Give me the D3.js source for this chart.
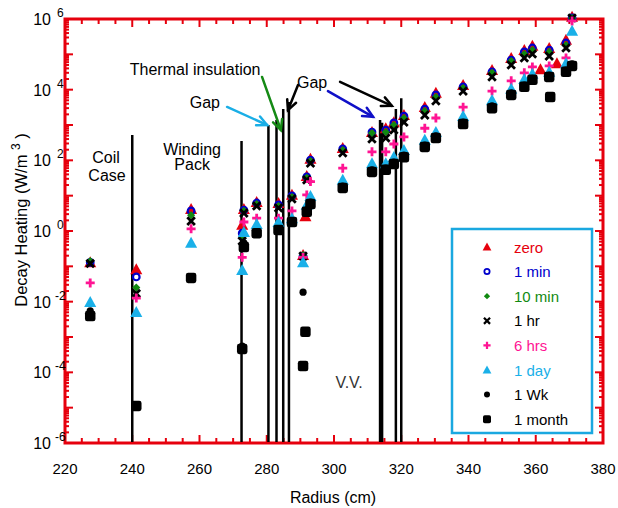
<!DOCTYPE html>
<html><head><meta charset="utf-8">
<script src="https://cdn.jsdelivr.net/npm/d3@7"></script>
<style>body{margin:0;background:#fff} svg{display:block} text{font-family:"Liberation Sans",Arial,sans-serif}</style>
</head><body><svg id="c" width="618" height="508"></svg>
<script>
// ---- data ----
const radius=[227.5,241.2,257.5,272.7,273.2,277.0,283.5,287.5,290.8,291.5,291.9,293.0,302.6,311.3,315.4,317.8,320.8,327.0,330.3,338.4,347.0,352.7,356.6,359.0,361.4,364.0,364.3,366.3,369.0,370.8];
const zero  =[0.13,0.083,4.2,1.5,4.2,6.6,6.2,10.5,0.21,2.6,36,110,224,630,810,1200,1900,3200,8100,13500,36000,79000,132000,174000,38000,151000,null,56000,257000,1.15e6];
const min1  =[0.13,0.050,3.7,0.87,3.9,6.2,5.5,9.8,0.195,null,34,102,210,630,720,1150,1780,2800,7100,12000,32000,69000,117000,151000,null,132000,null,null,209000,1.07e6];
const min10 =[0.14,0.025,2.8,0.63,3.7,5.8,5.1,9.1,0.21,null,32,96,195,590,630,1000,1580,2500,6200,11200,30000,65000,102000,132000,null,117000,null,null,182000,1.07e6];
const hr1   =[0.12,0.017,1.9,0.52,3.2,5.1,4.5,8.1,0.195,null,28,83,162,400,430,720,1200,1900,4800,9100,23000,50000,79000,102000,null,89000,null,null,151000,1.07e6];
const hrs6  =[0.034,0.0126,1.15,0.18,1.8,2.3,2.3,3.7,0.18,null,10.5,25,60,174,174,290,460,810,1580,3200,9100,17800,30000,44000,null,47000,null,null,79000,880000];
const day1  =[0.0098,0.0051,0.46,0.079,0.93,1.58,1.8,2.3,0.13,null,5.5,9.8,28,83,83,123,195,380,630,1780,5100,10500,20000,28000,null,32000,null,null,56000,460000];
const wk1   =[0.0055,1.17e-5,0.050,5.5e-4,0.46,0.93,1.15,1.9,0.0186,null,3.9,6.6,18.6,54,60,89,141,270,490,1200,3500,8100,13500,21000,null,26000,6600,null,36000,54000];
const month1=[0.0039,1.12e-5,0.047,4.6e-4,0.35,0.87,1.07,1.8,1.5e-4,1.4e-3,3.5,5.8,16.6,47,54,79,123,240,430,1070,3000,7100,12000,19000,null,23000,6200,null,32000,47000];
const seriesNames=["zero","1 min","10 min","1 hr","6 hrs","1 day","1 Wk","1 month"];
const seriesData=[zero,min1,min10,hr1,hrs6,day1,wk1,month1];
const xTicks=[220,240,260,280,300,320,340,360,380];
const yTickExps=[-6,-4,-2,0,2,4,6];
// material boundaries (radius, top value)
const boundaryR  =[240,272.5,280.5,282.9,284.9,286.6,313.7,314.3,318.4,320];
const boundaryTop=[525,355,1000,1380,2820,4470,1380,1150,2820,5750];
// annotations (data coords)
const labels=[
  {t:"Thermal insulation",r:258.7,v:36300},
  {t:"Gap",r:261.6,v:4470},
  {t:"Gap",r:293.5,v:15500},
  {t:"Coil",r:232.2,v:117},
  {t:"Case",r:232.5,v:38},
  {t:"Winding",r:257.8,v:209},
  {t:"Pack",r:257.8,v:74},
  {t:"V.V.",r:304.5,v:5e-5}
];
const arrows=[
  {r0:268.2,v0:3240,r1:280.1,v1:1000,c:"#1aaee6"},
  {r0:278.6,v0:22900,r1:284.2,v1:720,c:"#158a15"},
  {r0:289.3,v0:13500,r1:286.3,v1:2630,c:"#000"},
  {r0:298.2,v0:9100,r1:311.6,v1:1700,c:"#1010c8"},
  {r0:301.8,v0:16600,r1:317.2,v1:3470,c:"#000"}
];

// ---- styles ----
const RED="#e6000d";
const colors=["#e6000d","#0000cc","#118a11","#000000","#ff1493","#1ab0e8","#000000","#000000"];
const shapes=["tri","ring","diamond","x","plus","tri","dot","square"];

const svg=d3.select("#c");
const x=d3.scaleLinear().domain([220,380]).range([65,603]);
const y=d3.scaleLog().domain([1e-6,1e6]).range([443,19]);

// ticks
const tg=svg.append("g").attr("stroke",RED).attr("stroke-width",2);
for(let r=220;r<=380;r+=5){
  const L=(r%20===0)?8:5;
  tg.append("line").attr("x1",x(r)).attr("x2",x(r)).attr("y1",443).attr("y2",443-L);
  tg.append("line").attr("x1",x(r)).attr("x2",x(r)).attr("y1",19).attr("y2",19+L);
}
for(let e=-6;e<6;e++){
  for(let m=1;m<=9;m++){
    const v=m*Math.pow(10,e), yy=y(v), L=(m===1)?8:4;
    tg.append("line").attr("x1",65).attr("x2",65+L).attr("y1",yy).attr("y2",yy);
    tg.append("line").attr("x1",603).attr("x2",603-L).attr("y1",yy).attr("y2",yy);
  }
}
svg.append("rect").attr("x",65).attr("y",19).attr("width",538).attr("height",424)
  .attr("fill","none").attr("stroke",RED).attr("stroke-width",3);

// tick labels
xTicks.forEach(t=>svg.append("text").attr("x",x(t)).attr("y",474).attr("text-anchor","middle")
  .attr("font-size",15).text(t));
yTickExps.forEach(e=>{
  const yy=y(Math.pow(10,e));
  svg.append("text").attr("x",51).attr("y",yy+6).attr("text-anchor","end").attr("font-size",16).text("10");
  svg.append("text").attr("x",e<0?55:57).attr("y",yy-2).attr("font-size",12).text(e);
});
svg.append("text").attr("x",333).attr("y",503).attr("text-anchor","middle").attr("font-size",16).text("Radius (cm)");
const yl=svg.append("text").attr("transform","translate(27,220) rotate(-90)").attr("text-anchor","middle").attr("font-size",16.5);
yl.append("tspan").text("Decay Heating (W/m ");
yl.append("tspan").attr("font-size",12).attr("dy",-7).text("3");
yl.append("tspan").attr("dy",7).text(" )");

// boundaries
boundaryR.forEach((r,i)=>svg.append("line").attr("x1",x(r)).attr("x2",x(r))
  .attr("y1",y(boundaryTop[i])).attr("y2",442).attr("stroke","#000").attr("stroke-width",2.5));

// markers
function marker(g,type,cx,cy,s,c){
  switch(type){
    case "tri": g.append("path").attr("d",`M${cx},${cy-s*0.55}L${cx+s*0.55},${cy+s*0.45}L${cx-s*0.55},${cy+s*0.45}Z`).attr("fill",c); break;
    case "ring": g.append("circle").attr("cx",cx).attr("cy",cy).attr("r",s*0.33).attr("fill","none").attr("stroke",c).attr("stroke-width",s*0.22); break;
    case "diamond": g.append("path").attr("d",`M${cx},${cy-s*0.45}L${cx+s*0.45},${cy}L${cx},${cy+s*0.45}L${cx-s*0.45},${cy}Z`).attr("fill",c); break;
    case "x": {const h=s*0.38; g.append("path").attr("d",`M${cx-h},${cy-h}L${cx+h},${cy+h}M${cx+h},${cy-h}L${cx-h},${cy+h}`).attr("stroke",c).attr("stroke-width",s*0.28);} break;
    case "plus": {const h=s*0.45; g.append("path").attr("d",`M${cx-h},${cy}L${cx+h},${cy}M${cx},${cy-h}L${cx},${cy+h}`).attr("stroke",c).attr("stroke-width",s*0.28);} break;
    case "dot": g.append("circle").attr("cx",cx).attr("cy",cy).attr("r",s*0.4).attr("fill",c); break;
    case "square": g.append("rect").attr("x",cx-s*0.5).attr("y",cy-s*0.5).attr("width",s).attr("height",s).attr("rx",s*0.22).attr("fill",c); break;
  }
}
const dataSizes=[11,10,9,10,10,11,9,10.5];
const dg=svg.append("g");
seriesData.forEach((arr,si)=>{
  arr.forEach((v,i)=>{ if(v!=null) marker(dg,shapes[si],x(radius[i]),y(v),dataSizes[si],colors[si]); });
});

// legend
const lg=svg.append("g");
lg.append("rect").attr("x",452).attr("y",229).attr("width",140).attr("height",204)
  .attr("fill","#fff").attr("stroke","#1aa8e0").attr("stroke-width",2.5);
const legSizes=[8,8,7,8,8,8,7.5,8];
seriesNames.forEach((n,i)=>{
  const yy=247+i*24.6;
  marker(lg,shapes[i],487,yy,legSizes[i],colors[i]);
  lg.append("text").attr("x",514).attr("y",yy+5.5).attr("font-size",15).attr("fill",colors[i]).text(n);
});

// annotations
labels.forEach(l=>svg.append("text").attr("x",x(l.r)).attr("y",y(l.v)+5.5).attr("text-anchor","middle")
  .attr("font-size",16).attr("fill",l.t==="V.V."?"#333":"#000").text(l.t));
arrows.forEach(a=>{
  const x0=x(a.r0),y0=y(a.v0),x1=x(a.r1),y1=y(a.v1);
  const ang=Math.atan2(y1-y0,x1-x0), L=11, w=0.45;
  const g=svg.append("g").attr("stroke",a.c).attr("stroke-width",2.5).attr("fill","none").attr("stroke-linecap","round");
  g.append("line").attr("x1",x0).attr("y1",y0).attr("x2",x1).attr("y2",y1);
  g.append("path").attr("d",`M${x1-L*Math.cos(ang-w)},${y1-L*Math.sin(ang-w)}L${x1},${y1}L${x1-L*Math.cos(ang+w)},${y1-L*Math.sin(ang+w)}`);
});
</script></body></html>
